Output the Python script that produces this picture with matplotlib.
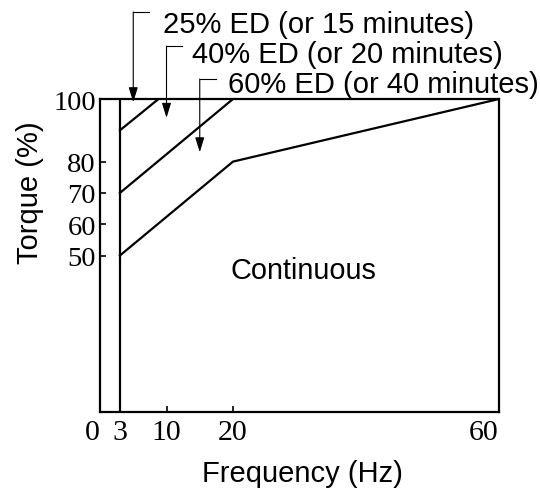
import matplotlib
matplotlib.use("Agg")
import matplotlib.pyplot as plt

# torque curves (frequency Hz -> torque %)
freq_25 = [3, 8.8]
torque_25 = [90, 100]
freq_40 = [3, 20]
torque_40 = [70, 100]
freq_cont = [3, 20, 60]
torque_cont = [50, 80, 100]
min_freq = 3

x_ticks = [0, 3, 10, 20, 60]
y_ticks = [50, 60, 70, 80, 100]

# duty labels and where their arrows point
duty_labels = ["25% ED (or 15 minutes)", "40% ED (or 20 minutes)", "60% ED (or 40 minutes)"]
arrow_x = [5, 10, 15]
arrow_tip_y = [99, 94, 83]
leader_top_y = [127.8, 116.9, 106.4]
text_x = [9.5, 13.8, 19.3]
text_y = [121.3, 111.7, 102.1]

sans = "Liberation Sans"
serif = "Liberation Serif"

fig = plt.figure(figsize=(5.4, 4.89), dpi=100)
ax = fig.add_axes([100 / 540, 76 / 489, 399 / 540, 313 / 489])

lw = 1.6
ax.plot(freq_25, torque_25, color="black", lw=lw)
ax.plot(freq_40, torque_40, color="black", lw=lw)
ax.plot(freq_cont, torque_cont, color="black", lw=lw)
ax.axvline(min_freq, color="black", lw=lw)

ax.set_xlim(0, 60)
ax.set_ylim(0, 100)
for s in ax.spines.values():
    s.set_linewidth(lw)

ax.set_xticks(x_ticks)
ax.set_yticks(y_ticks)
ax.tick_params(direction="in", length=4, width=1.2, pad=5)
ax.tick_params(axis="y", pad=3)
xl = ax.set_xticklabels([str(t) for t in x_ticks], fontfamily=serif, fontsize=21.5)
for lab, t in zip(xl, x_ticks):
    if t in (0, 60):
        lab.set_ha("right")
ax.set_yticklabels([str(t) for t in y_ticks], fontfamily=serif, fontsize=20.5)

# duty cycle annotations with leader lines
for lab, ax_x, tip, top, tx, ty in zip(duty_labels, arrow_x, arrow_tip_y,
                                       leader_top_y, text_x, text_y):
    ax.annotate("", xy=(ax_x, tip), xytext=(ax_x, top),
                arrowprops=dict(arrowstyle="-|>,head_length=0.9,head_width=0.28",
                                mutation_scale=10, color="black", lw=0.8,
                                shrinkA=0, shrinkB=0),
                annotation_clip=False)
    ax.plot([ax_x, ax_x + 2.4], [top, top], color="black", lw=0.8, clip_on=False)
    ax.text(tx, ty, lab, fontfamily=sans, fontsize=21, ha="left",
            va="baseline", clip_on=False)

ax.text(30.6, 45.5, "Continuous", fontfamily=sans, fontsize=20.8,
        ha="center", va="center")

fig.text(30 / 540, 1 - 193 / 489, "Torque (%)", fontfamily=sans, fontsize=21,
         rotation=90, ha="center", va="center")
fig.text(302 / 540, 1 - 474 / 489, "Frequency (Hz)", fontfamily=sans,
         fontsize=21, ha="center", va="center")

fig.savefig("out.png", dpi=100)
